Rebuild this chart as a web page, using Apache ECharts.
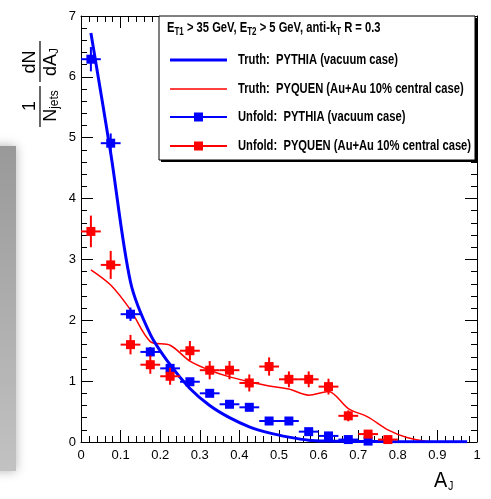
<!DOCTYPE html>
<html><head><meta charset="utf-8">
<script src="https://cdn.jsdelivr.net/npm/echarts@6/dist/echarts.min.js"></script>
<style>html,body{margin:0;padding:0;background:#fff}#c{width:491px;height:499px}</style>
</head><body><div id="c"></div>
<script>
// ---- data ----
const binCenters = [0.025,0.075,0.125,0.175,0.225,0.275,0.325,0.375,0.425,0.475,0.525,0.575,0.625,0.675,0.725,0.775,0.825,0.875,0.925,0.975];
const halfBin = 0.025;
const truthPythia = [6.72,4.75,2.63,1.77,1.27,0.88,0.60,0.40,0.25,0.15,0.08,0.03,0.015,0.01,0.008,0.005,0.005,0.005,0.005,0.005];
const truthPyquen = [2.83,2.58,2.17,1.65,1.59,1.33,1.18,1.07,0.99,0.92,0.87,0.77,0.83,0.55,0.41,0.20,0.07,0.01,0.0];
const unfoldPythia = [6.29,4.91,2.10,1.48,1.21,0.99,0.80,0.62,0.57,0.345,0.345,0.17,0.10,0.04,0.015];
const unfoldPythiaErr = [0.20,0.16,0.11,0.08,0.07,0.06,0.06,0.05,0.05,0.04,0.04,0.03,0.03,0.02,0.02];
const unfoldPyquen = [3.46,2.91,1.60,1.27,1.08,1.50,1.18,1.18,0.97,1.24,1.03,1.03,0.91,0.43,0.13,0.04];
const unfoldPyquenErr = [0.26,0.23,0.16,0.15,0.14,0.16,0.15,0.15,0.14,0.15,0.13,0.13,0.13,0.09,0.06,0.04];
const xTickLabels = ['0','0.1','0.2','0.3','0.4','0.5','0.6','0.7','0.8','0.9','1'];
const yTickLabels = ['0','1','2','3','4','5','6','7'];
const legendHeader = ['E', 'T1', ' > 35 GeV, ', 'E', 'T2', ' > 5 GeV, anti-k', 'T', ' R = 0.3'];
const legendEntries = [
  'Truth:  PYTHIA (vacuum case)',
  'Truth:  PYQUEN (Au+Au 10% central case)',
  'Unfold:  PYTHIA (vacuum case)',
  'Unfold:  PYQUEN (Au+Au 10% central case)'
];

const BLUE = '#0000ff', RED = '#ff0000';
const FONT = "'Liberation Sans', Arial, sans-serif";
const SX = 0.8; // horizontal squeeze of the text in the reference

const chart = echarts.init(document.getElementById('c'), null, {renderer: 'canvas'});

function errRender(color) {
  return function (params, api) {
    const x = api.value(0), y = api.value(1), e = api.value(2);
    const c = api.coord([x, y]);
    const l = api.coord([x - halfBin, y]);
    const r = api.coord([x + halfBin, y]);
    const t = api.coord([x, y + e]);
    const b = api.coord([x, y - e]);
    const s = 9;
    return {type: 'group', children: [
      {type: 'line', shape: {x1: l[0], y1: c[1], x2: r[0], y2: c[1]}, style: {stroke: color, lineWidth: 2}},
      {type: 'line', shape: {x1: c[0], y1: t[1], x2: c[0], y2: b[1]}, style: {stroke: color, lineWidth: 2}},
      {type: 'rect', shape: {x: c[0] - s / 2, y: c[1] - s / 2, width: s, height: s}, style: {fill: color}}
    ]};
  };
}

const axisCommon = {
  type: 'value',
  axisLine: {show: true, onZero: false, lineStyle: {color: '#000', width: 1}},
  axisTick: {show: true, inside: true, length: 12, lineStyle: {color: '#000', width: 1}},
  minorTick: {show: true, splitNumber: 5, length: 6, lineStyle: {color: '#000', width: 1}},
  splitLine: {show: false},
  minorSplitLine: {show: false}
};

function xLabel(v) { const i = Math.round(v * 10); return xTickLabels[i]; }
function yLabel(v) { return yTickLabels[Math.round(v)]; }

// legend graphics
const LX = 159, LY = 16, LW = 316, LH = 144;
const rowY = [60, 89, 117, 146];
const legendEls = [];
legendEls.push({type: 'rect', shape: {x: LX + 2, y: LY + 2, width: LW, height: LH}, style: {fill: '#000'}, z: 100});
legendEls.push({type: 'rect', shape: {x: LX, y: LY, width: LW, height: LH}, style: {fill: '#fff', stroke: '#000', lineWidth: 1}, z: 101});
legendEls.push({
  type: 'text', x: 167, y: 28, z: 102, scaleX: SX,
  style: {
    text: legendHeader.map((p, i) => (i === 1 || i === 4 || i === 6) ? '{s|' + p + '}' : '{n|' + p + '}').join(''),
    verticalAlign: 'middle', align: 'left',
    rich: {
      n: {fontFamily: FONT, fontSize: 14, fontWeight: 'bold', fill: '#000', lineHeight: 16},
      s: {fontFamily: FONT, fontSize: 10, fontWeight: 'bold', fill: '#000', lineHeight: 10, padding: [9, 0, 0, 0]}
    }
  }
});
const sampleColors = [BLUE, RED, BLUE, RED];
const sampleWidths = [3, 1.5, 2, 2];
for (let i = 0; i < 4; i++) {
  legendEls.push({type: 'line', z: 102, shape: {x1: 170, y1: rowY[i], x2: 227, y2: rowY[i]}, style: {stroke: sampleColors[i], lineWidth: sampleWidths[i]}});
  if (i >= 2) legendEls.push({type: 'rect', z: 103, shape: {x: 194, y: rowY[i] - 4.5, width: 9, height: 9}, style: {fill: sampleColors[i]}});
  legendEls.push({type: 'text', z: 102, x: 238, y: rowY[i], scaleX: SX, style: {text: legendEntries[i], fontFamily: FONT, fontSize: 14, fontWeight: 'bold', fill: '#000', verticalAlign: 'middle', align: 'left'}});
}

// y-axis title (rotated fraction)
const ytitle = {
  type: 'group', x: 40, y: 84, rotation: Math.PI / 2, z: 50,
  children: [
    {type: 'line', shape: {x1: -43, y1: 0, x2: -2, y2: 0}, style: {stroke: '#000', lineWidth: 1.2}},
    {type: 'line', shape: {x1: 2, y1: 0, x2: 43, y2: 0}, style: {stroke: '#000', lineWidth: 1.2}},
    {type: 'text', x: -22, y: -1, style: {text: '1', fontFamily: FONT, fontSize: 18, fill: '#000', align: 'center', verticalAlign: 'bottom'}},
    {type: 'text', x: -22, y: 2, style: {text: '{n|N}{s|jets}', align: 'center', verticalAlign: 'top',
      rich: {n: {fontFamily: FONT, fontSize: 18, fill: '#000', lineHeight: 18}, s: {fontFamily: FONT, fontSize: 12, fill: '#000', lineHeight: 12, padding: [8, 0, 0, 0]}}}},
    {type: 'text', x: 22, y: -1, style: {text: 'dN', fontFamily: FONT, fontSize: 18, fill: '#000', align: 'center', verticalAlign: 'bottom'}},
    {type: 'text', x: 22, y: 2, style: {text: '{n|dA}{s|J}', align: 'center', verticalAlign: 'top',
      rich: {n: {fontFamily: FONT, fontSize: 18, fill: '#000', lineHeight: 18}, s: {fontFamily: FONT, fontSize: 12, fill: '#000', lineHeight: 12, padding: [8, 0, 0, 0]}}}}
  ]
};

const xtitle = {
  type: 'text', x: 434, y: 470, z: 50, scaleX: 0.9,
  style: {text: '{n|A}{s|J}', align: 'left', verticalAlign: 'top',
    rich: {n: {fontFamily: FONT, fontSize: 22, fill: '#000', lineHeight: 22}, s: {fontFamily: FONT, fontSize: 12, fill: '#000', lineHeight: 12, padding: [12, 0, 0, 1]}}}
};

const grayBox = {
  type: 'rect', z: 0, shape: {x: -20, y: 146, width: 36, height: 325},
  style: {
    fill: new echarts.graphic.LinearGradient(0, 0, 0, 1, [{offset: 0, color: '#999999'}, {offset: 1, color: '#c2c2c2'}]),
    shadowBlur: 10, shadowColor: 'rgba(170,170,170,0.9)'
  }
};

const option = {
  backgroundColor: '#fff',
  animation: false,
  grid: {left: 81, top: 16, right: 14, bottom: 57, containLabel: false},
  xAxis: [
    Object.assign({}, axisCommon, {position: 'bottom', min: 0, max: 1, interval: 0.1,
      axisLabel: {show: true, margin: 7, fontSize: 13, color: '#000', fontFamily: FONT, formatter: xLabel}}),
    Object.assign({}, axisCommon, {position: 'top', min: 0, max: 1, interval: 0.1, axisLabel: {show: false}})
  ],
  yAxis: [
    Object.assign({}, axisCommon, {position: 'left', min: 0, max: 7, interval: 1,
      axisLabel: {show: true, margin: 5, fontSize: 13, color: '#000', fontFamily: FONT, formatter: yLabel}}),
    Object.assign({}, axisCommon, {position: 'right', min: 0, max: 7, interval: 1, axisLabel: {show: false}})
  ],
  series: [
    {type: 'line', name: legendEntries[1], data: truthPyquen.map((v, i) => [binCenters[i], v]),
      smooth: 0.3, showSymbol: false, symbol: 'none', lineStyle: {color: RED, width: 1.5}, z: 3},
    {type: 'line', name: legendEntries[0], data: truthPythia.map((v, i) => [binCenters[i], v]),
      smooth: 0.3, showSymbol: false, symbol: 'none', lineStyle: {color: BLUE, width: 3}, z: 4},
    {type: 'custom', name: legendEntries[2], renderItem: errRender(BLUE), z: 5,
      data: unfoldPythia.map((v, i) => [binCenters[i], v, unfoldPythiaErr[i]]), encode: {x: 0, y: 1}},
    {type: 'custom', name: legendEntries[3], renderItem: errRender(RED), z: 6,
      data: unfoldPyquen.map((v, i) => [binCenters[i], v, unfoldPyquenErr[i]]), encode: {x: 0, y: 1}}
  ],
  graphic: [grayBox, ytitle, xtitle].concat(legendEls)
};
chart.setOption(option);
</script>
</body></html>
